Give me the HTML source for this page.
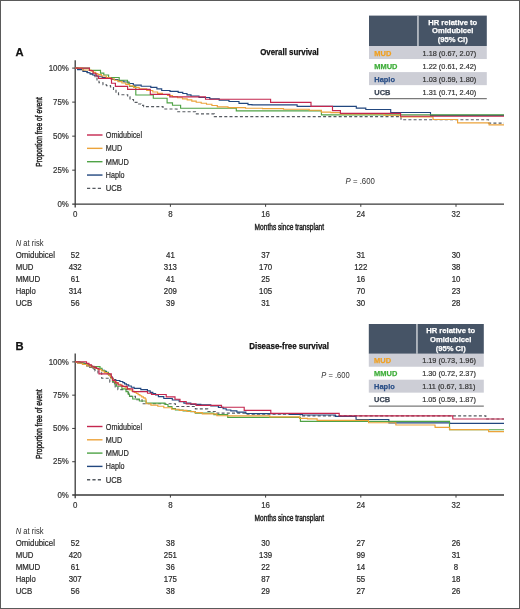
<!DOCTYPE html>
<html><head><meta charset="utf-8"><style>
html,body{margin:0;padding:0;background:#fff;}
body{width:520px;height:609px;overflow:hidden;}
svg{display:block;font-family:"Liberation Sans", sans-serif;will-change:transform;}
</style></head><body>
<svg width="520" height="609" viewBox="0 0 520 609">
<rect x="0" y="0" width="520" height="609" fill="#fff"/>
<path d="M75.2 60.3 V207.39999999999998 M72.2 204.2 H504" stroke="#3a3a3a" stroke-width="1.3" fill="none"/>
<path d="M72.2 68.10 H75.2 M72.2 102.12 H75.2 M72.2 136.15 H75.2 M72.2 170.17 H75.2 M170.40 204.2 V206.79999999999998 M265.60 204.2 V206.79999999999998 M360.80 204.2 V206.79999999999998 M456.00 204.2 V206.79999999999998" stroke="#3a3a3a" stroke-width="1" fill="none"/>
<text x="68.9" y="70.80" font-size="8.6" text-anchor="end" fill="#333" textLength="20.21" lengthAdjust="spacingAndGlyphs" stroke="#333" stroke-width="0.2">100%</text>
<text x="68.9" y="104.82" font-size="8.6" text-anchor="end" fill="#333" textLength="15.81" lengthAdjust="spacingAndGlyphs" stroke="#333" stroke-width="0.2">75%</text>
<text x="68.9" y="138.85" font-size="8.6" text-anchor="end" fill="#333" textLength="15.81" lengthAdjust="spacingAndGlyphs" stroke="#333" stroke-width="0.2">50%</text>
<text x="68.9" y="172.87" font-size="8.6" text-anchor="end" fill="#333" textLength="15.81" lengthAdjust="spacingAndGlyphs" stroke="#333" stroke-width="0.2">25%</text>
<text x="68.9" y="206.90" font-size="8.6" text-anchor="end" fill="#333" textLength="11.42" lengthAdjust="spacingAndGlyphs" stroke="#333" stroke-width="0.2">0%</text>
<text x="75.20" y="217.0" font-size="8.6" text-anchor="middle" fill="#333" textLength="4.39" lengthAdjust="spacingAndGlyphs" stroke="#333" stroke-width="0.2">0</text>
<text x="170.40" y="217.0" font-size="8.6" text-anchor="middle" fill="#333" textLength="4.39" lengthAdjust="spacingAndGlyphs" stroke="#333" stroke-width="0.2">8</text>
<text x="265.60" y="217.0" font-size="8.6" text-anchor="middle" fill="#333" textLength="8.79" lengthAdjust="spacingAndGlyphs" stroke="#333" stroke-width="0.2">16</text>
<text x="360.80" y="217.0" font-size="8.6" text-anchor="middle" fill="#333" textLength="8.79" lengthAdjust="spacingAndGlyphs" stroke="#333" stroke-width="0.2">24</text>
<text x="456.00" y="217.0" font-size="8.6" text-anchor="middle" fill="#333" textLength="8.79" lengthAdjust="spacingAndGlyphs" stroke="#333" stroke-width="0.2">32</text>
<text x="0" y="0" font-size="9.4" fill="#222" stroke="#222" stroke-width="0.45" text-anchor="middle" textLength="69.5" lengthAdjust="spacingAndGlyphs" transform="translate(42.2 132) rotate(-90)">Proportion free of event</text>
<text x="254.6" y="230.4" font-size="9.4" text-anchor="start" fill="#222" textLength="69.5" lengthAdjust="spacingAndGlyphs" stroke="#222" stroke-width="0.45">Months since transplant</text>
<text x="15.6" y="56" font-size="11.2" text-anchor="start" fill="#111" font-weight="bold" stroke="#111" stroke-width="0.25">A</text>
<text x="260.2" y="55.4" font-size="9.0" text-anchor="start" fill="#111" font-weight="bold" textLength="58.6" lengthAdjust="spacingAndGlyphs" stroke="#111" stroke-width="0.25">Overall survival</text>
<text x="345.6" y="184" font-size="8.4" fill="#333" textLength="29.3" lengthAdjust="spacingAndGlyphs"><tspan font-style="italic">P</tspan> = .600</text>
<path d="M87 135.00 H102.5" stroke="#c4264e" stroke-width="1.4"/>
<text x="105.8" y="138.00" font-size="8.6" text-anchor="start" fill="#2a2a2a" textLength="36.2" lengthAdjust="spacingAndGlyphs" stroke="#2a2a2a" stroke-width="0.2">Omidubicel</text>
<path d="M87 148.35 H102.5" stroke="#eca33a" stroke-width="1.4"/>
<text x="105.8" y="151.35" font-size="8.6" text-anchor="start" fill="#2a2a2a" textLength="16.4" lengthAdjust="spacingAndGlyphs" stroke="#2a2a2a" stroke-width="0.2">MUD</text>
<path d="M87 161.70 H102.5" stroke="#4fa346" stroke-width="1.4"/>
<text x="105.8" y="164.70" font-size="8.6" text-anchor="start" fill="#2a2a2a" textLength="23.0" lengthAdjust="spacingAndGlyphs" stroke="#2a2a2a" stroke-width="0.2">MMUD</text>
<path d="M87 175.05 H102.5" stroke="#22477f" stroke-width="1.4"/>
<text x="105.8" y="178.05" font-size="8.6" text-anchor="start" fill="#2a2a2a" textLength="18.7" lengthAdjust="spacingAndGlyphs" stroke="#2a2a2a" stroke-width="0.2">Haplo</text>
<path d="M87 188.40 H102.5" stroke="#555a60" stroke-width="1.4" stroke-dasharray="3.2 2.2"/>
<text x="105.8" y="191.40" font-size="8.6" text-anchor="start" fill="#2a2a2a" textLength="16.2" lengthAdjust="spacingAndGlyphs" stroke="#2a2a2a" stroke-width="0.2">UCB</text>
<path d="M75.2,68.1 78.0,68.1 78.0,69.5 82.0,69.5 82.0,71.0 86.0,71.0 86.0,72.5 90.0,72.5 90.0,74.0 93.0,74.0 93.0,75.5 95.0,75.5 95.0,78.0 97.0,78.0 97.0,80.5 99.0,80.5 99.0,82.7 103.0,82.7 103.0,84.7 106.5,84.7 106.5,85.6 110.5,85.6 110.5,87.0 113.5,87.0 113.5,89.5 116.0,89.5 116.0,92.8 118.5,92.8 118.5,94.7 127.7,94.7 127.7,96.8 130.0,96.8 130.0,99.5 133.5,99.5 133.5,102.3 138.0,102.3 138.0,104.0 141.0,104.0 141.0,105.3 143.6,105.3 143.6,106.6 163.0,106.6 163.0,109.0 177.0,109.0 177.0,111.7 195.5,111.7 195.5,113.9 214.3,113.9 214.3,116.6 401.0,116.6 401.0,119.7 488.5,119.7 488.5,123.1 504.0,123.1" stroke="#555a60" stroke-width="1.15" fill="none" stroke-linejoin="miter" stroke-dasharray="3 2.2"/>
<path d="M75.2,68.1 77.6,68.1 77.6,69.6 83.0,69.6 83.0,71.5 87.3,71.5 87.3,72.7 90.0,72.7 90.0,73.8 92.7,73.8 92.7,75.0 96.8,75.0 96.8,76.2 102.2,76.2 102.2,77.5 107.5,77.5 107.5,78.5 112.5,78.5 112.5,79.5 118.0,79.5 118.0,80.8 123.9,80.8 123.9,82.0 129.0,82.0 129.0,83.5 133.3,83.5 133.3,85.1 141.2,85.1 141.2,86.2 150.8,86.2 150.8,87.3 156.9,87.3 156.9,88.9 161.7,88.9 161.7,90.5 170.0,90.5 170.0,91.3 178.2,91.3 178.2,92.4 182.8,92.4 182.8,93.5 187.0,93.5 187.0,94.8 191.0,94.8 191.0,96.0 199.0,96.0 199.0,97.5 209.8,97.5 209.8,98.8 219.2,98.8 219.2,100.2 229.0,100.2 229.0,101.5 239.0,101.5 239.0,103.3 248.0,103.3 248.0,104.6 252.0,104.6 252.0,104.8 297.1,104.8 297.1,106.0 297.2,106.0 297.2,106.3 356.3,106.3 356.3,108.1 365.8,108.1 365.8,109.5 390.7,109.5 390.7,111.0 390.7,111.0 390.7,112.5 430.5,112.5 430.5,113.9 430.5,113.9 430.5,115.3 504.0,115.3" stroke="#22477f" stroke-width="1.15" fill="none" stroke-linejoin="miter"/>
<path d="M75.2,68.1 89.5,68.1 89.5,70.3 100.5,70.3 100.5,73.1 103.8,73.1 103.8,75.0 108.6,75.0 108.6,77.5 119.2,77.5 119.2,80.2 127.5,80.2 127.5,83.0 129.5,83.0 129.5,86.5 135.8,86.5 135.8,95.0 153.3,95.0 153.3,98.2 167.1,98.2 167.1,102.8 172.5,102.8 172.5,105.2 180.6,105.2 180.6,108.2 236.3,108.2 236.3,110.9 321.4,110.9 321.4,114.8 504.0,114.8" stroke="#4fa346" stroke-width="1.15" fill="none" stroke-linejoin="miter"/>
<path d="M75.2,68.1 82.6,68.1 82.6,70.0 91.1,70.0 91.1,71.2 93.4,71.2 93.4,72.3 95.6,72.3 95.6,73.5 97.9,73.5 97.9,74.6 101.4,74.6 101.4,76.0 106.3,76.0 106.3,77.5 110.6,77.5 110.6,78.9 114.3,78.9 114.3,80.2 118.1,80.2 118.1,81.6 121.9,81.6 121.9,83.0 125.8,83.0 125.8,84.3 129.6,84.3 129.6,85.8 133.5,85.8 133.5,87.4 139.2,87.4 139.2,88.9 146.7,88.9 146.7,90.5 152.8,90.5 152.8,92.0 157.6,92.0 157.6,93.4 162.5,93.4 162.5,94.5 167.5,94.5 167.5,95.5 172.5,95.5 172.5,96.6 177.5,96.6 177.5,97.7 182.5,97.7 182.5,98.8 187.2,98.8 187.2,99.9 191.8,99.9 191.8,101.1 196.2,101.1 196.2,102.2 201.2,102.2 201.2,103.2 206.5,103.2 206.5,104.2 211.9,104.2 211.9,105.5 217.3,105.5 217.3,106.9 228.0,106.9 228.0,107.6 245.5,107.6 245.5,108.2 262.5,108.2 262.5,108.6 283.5,108.6 283.5,109.2 309.2,109.2 309.2,110.2 321.4,110.2 321.4,112.1 330.9,112.1 330.9,112.6 340.4,112.6 340.4,113.8 340.5,113.8 340.5,113.9 384.1,113.9 384.1,115.2 400.4,115.2 400.4,116.9 433.0,116.9 433.0,118.2 433.1,118.2 433.1,119.5 457.5,119.5 457.5,120.6 457.6,120.6 457.6,121.8 457.6,121.8 457.6,122.9 489.0,122.9 489.0,123.9 489.1,123.9 489.1,124.9 504.0,124.9" stroke="#eca33a" stroke-width="1.15" fill="none" stroke-linejoin="miter"/>
<path d="M75.2,68.1 89.4,68.1 89.4,70.5 93.0,70.5 93.0,73.2 96.0,73.2 96.0,76.0 98.5,76.0 98.5,78.4 111.5,78.4 111.5,83.2 115.4,83.2 115.4,86.3 127.6,86.3 127.6,89.4 150.3,89.4 150.3,94.4 169.8,94.4 169.8,96.9 205.5,96.9 205.5,99.2 270.6,99.2 270.6,102.4 311.0,102.4 311.0,106.4 332.5,106.4 332.5,110.6 340.4,110.6 340.4,113.4 400.6,113.4 400.6,116.2 504.0,116.2" stroke="#c4264e" stroke-width="1.15" fill="none" stroke-linejoin="miter"/>
<rect x="369" y="15.6" width="117.80000000000001" height="30.4" fill="#465466"/>
<rect x="417.2" y="15.6" width="1.5" height="30.4" fill="#c9cdd3"/>
<text x="452.75" y="24.50" font-size="7.9" text-anchor="middle" fill="#fff" font-weight="bold" textLength="48.99" lengthAdjust="spacingAndGlyphs" stroke="#fff" stroke-width="0.25">HR relative to</text>
<text x="452.75" y="33.20" font-size="7.9" text-anchor="middle" fill="#fff" font-weight="bold" textLength="41.38" lengthAdjust="spacingAndGlyphs" stroke="#fff" stroke-width="0.25">Omidubicel</text>
<text x="452.75" y="41.90" font-size="7.9" text-anchor="middle" fill="#fff" font-weight="bold" textLength="29.98" lengthAdjust="spacingAndGlyphs" stroke="#fff" stroke-width="0.25">(95% CI)</text>
<rect x="369" y="46.00" width="117.80000000000001" height="13.05" fill="#cdced6"/>
<text x="374.3" y="55.50" font-size="8.0" text-anchor="start" fill="#f0a020" font-weight="bold" textLength="16.97" lengthAdjust="spacingAndGlyphs" stroke="#f0a020" stroke-width="0.25">MUD</text>
<text x="422.6" y="55.50" font-size="8.0" text-anchor="start" fill="#333" textLength="53.72" lengthAdjust="spacingAndGlyphs" stroke="#333" stroke-width="0.2">1.18 (0.67, 2.07)</text>
<text x="374.3" y="68.55" font-size="8.0" text-anchor="start" fill="#3fae3a" font-weight="bold" textLength="23.17" lengthAdjust="spacingAndGlyphs" stroke="#3fae3a" stroke-width="0.25">MMUD</text>
<text x="422.6" y="68.55" font-size="8.0" text-anchor="start" fill="#333" textLength="53.72" lengthAdjust="spacingAndGlyphs" stroke="#333" stroke-width="0.2">1.22 (0.61, 2.42)</text>
<rect x="369" y="72.10" width="117.80000000000001" height="13.05" fill="#cdced6"/>
<text x="374.3" y="81.60" font-size="8.0" text-anchor="start" fill="#2a4f87" font-weight="bold" textLength="20.69" lengthAdjust="spacingAndGlyphs" stroke="#2a4f87" stroke-width="0.25">Haplo</text>
<text x="422.6" y="81.60" font-size="8.0" text-anchor="start" fill="#333" textLength="53.72" lengthAdjust="spacingAndGlyphs" stroke="#333" stroke-width="0.2">1.03 (0.59, 1.80)</text>
<text x="374.3" y="94.65" font-size="8.0" text-anchor="start" fill="#3c4656" font-weight="bold" textLength="16.14" lengthAdjust="spacingAndGlyphs" stroke="#3c4656" stroke-width="0.25">UCB</text>
<text x="422.6" y="94.65" font-size="8.0" text-anchor="start" fill="#333" textLength="53.72" lengthAdjust="spacingAndGlyphs" stroke="#333" stroke-width="0.2">1.31 (0.71, 2.40)</text>
<rect x="369" y="98.20" width="117.80000000000001" height="1.0" fill="#5a5a5a"/>
<text x="15.7" y="245.6" font-size="8.6" fill="#2a2a2a" textLength="27.8" lengthAdjust="spacingAndGlyphs"><tspan font-style="italic">N</tspan> at risk</text>
<text x="15.7" y="257.60" font-size="8.6" text-anchor="start" fill="#2a2a2a" textLength="39.2" lengthAdjust="spacingAndGlyphs" stroke="#2a2a2a" stroke-width="0.2">Omidubicel</text>
<text x="75.20" y="257.60" font-size="8.6" text-anchor="middle" fill="#2a2a2a" textLength="8.73" lengthAdjust="spacingAndGlyphs" stroke="#2a2a2a" stroke-width="0.2">52</text>
<text x="170.40" y="257.60" font-size="8.6" text-anchor="middle" fill="#2a2a2a" textLength="8.73" lengthAdjust="spacingAndGlyphs" stroke="#2a2a2a" stroke-width="0.2">41</text>
<text x="265.60" y="257.60" font-size="8.6" text-anchor="middle" fill="#2a2a2a" textLength="8.73" lengthAdjust="spacingAndGlyphs" stroke="#2a2a2a" stroke-width="0.2">37</text>
<text x="360.80" y="257.60" font-size="8.6" text-anchor="middle" fill="#2a2a2a" textLength="8.73" lengthAdjust="spacingAndGlyphs" stroke="#2a2a2a" stroke-width="0.2">31</text>
<text x="456.00" y="257.60" font-size="8.6" text-anchor="middle" fill="#2a2a2a" textLength="8.73" lengthAdjust="spacingAndGlyphs" stroke="#2a2a2a" stroke-width="0.2">30</text>
<text x="15.7" y="269.60" font-size="8.6" text-anchor="start" fill="#2a2a2a" textLength="17.8" lengthAdjust="spacingAndGlyphs" stroke="#2a2a2a" stroke-width="0.2">MUD</text>
<text x="75.20" y="269.60" font-size="8.6" text-anchor="middle" fill="#2a2a2a" textLength="13.1" lengthAdjust="spacingAndGlyphs" stroke="#2a2a2a" stroke-width="0.2">432</text>
<text x="170.40" y="269.60" font-size="8.6" text-anchor="middle" fill="#2a2a2a" textLength="13.1" lengthAdjust="spacingAndGlyphs" stroke="#2a2a2a" stroke-width="0.2">313</text>
<text x="265.60" y="269.60" font-size="8.6" text-anchor="middle" fill="#2a2a2a" textLength="13.1" lengthAdjust="spacingAndGlyphs" stroke="#2a2a2a" stroke-width="0.2">170</text>
<text x="360.80" y="269.60" font-size="8.6" text-anchor="middle" fill="#2a2a2a" textLength="13.1" lengthAdjust="spacingAndGlyphs" stroke="#2a2a2a" stroke-width="0.2">122</text>
<text x="456.00" y="269.60" font-size="8.6" text-anchor="middle" fill="#2a2a2a" textLength="8.73" lengthAdjust="spacingAndGlyphs" stroke="#2a2a2a" stroke-width="0.2">38</text>
<text x="15.7" y="281.60" font-size="8.6" text-anchor="start" fill="#2a2a2a" textLength="24.6" lengthAdjust="spacingAndGlyphs" stroke="#2a2a2a" stroke-width="0.2">MMUD</text>
<text x="75.20" y="281.60" font-size="8.6" text-anchor="middle" fill="#2a2a2a" textLength="8.73" lengthAdjust="spacingAndGlyphs" stroke="#2a2a2a" stroke-width="0.2">61</text>
<text x="170.40" y="281.60" font-size="8.6" text-anchor="middle" fill="#2a2a2a" textLength="8.73" lengthAdjust="spacingAndGlyphs" stroke="#2a2a2a" stroke-width="0.2">41</text>
<text x="265.60" y="281.60" font-size="8.6" text-anchor="middle" fill="#2a2a2a" textLength="8.73" lengthAdjust="spacingAndGlyphs" stroke="#2a2a2a" stroke-width="0.2">25</text>
<text x="360.80" y="281.60" font-size="8.6" text-anchor="middle" fill="#2a2a2a" textLength="8.73" lengthAdjust="spacingAndGlyphs" stroke="#2a2a2a" stroke-width="0.2">16</text>
<text x="456.00" y="281.60" font-size="8.6" text-anchor="middle" fill="#2a2a2a" textLength="8.73" lengthAdjust="spacingAndGlyphs" stroke="#2a2a2a" stroke-width="0.2">10</text>
<text x="15.7" y="293.60" font-size="8.6" text-anchor="start" fill="#2a2a2a" textLength="20.0" lengthAdjust="spacingAndGlyphs" stroke="#2a2a2a" stroke-width="0.2">Haplo</text>
<text x="75.20" y="293.60" font-size="8.6" text-anchor="middle" fill="#2a2a2a" textLength="13.1" lengthAdjust="spacingAndGlyphs" stroke="#2a2a2a" stroke-width="0.2">314</text>
<text x="170.40" y="293.60" font-size="8.6" text-anchor="middle" fill="#2a2a2a" textLength="13.1" lengthAdjust="spacingAndGlyphs" stroke="#2a2a2a" stroke-width="0.2">209</text>
<text x="265.60" y="293.60" font-size="8.6" text-anchor="middle" fill="#2a2a2a" textLength="13.1" lengthAdjust="spacingAndGlyphs" stroke="#2a2a2a" stroke-width="0.2">105</text>
<text x="360.80" y="293.60" font-size="8.6" text-anchor="middle" fill="#2a2a2a" textLength="8.73" lengthAdjust="spacingAndGlyphs" stroke="#2a2a2a" stroke-width="0.2">70</text>
<text x="456.00" y="293.60" font-size="8.6" text-anchor="middle" fill="#2a2a2a" textLength="8.73" lengthAdjust="spacingAndGlyphs" stroke="#2a2a2a" stroke-width="0.2">23</text>
<text x="15.7" y="305.60" font-size="8.6" text-anchor="start" fill="#2a2a2a" textLength="16.6" lengthAdjust="spacingAndGlyphs" stroke="#2a2a2a" stroke-width="0.2">UCB</text>
<text x="75.20" y="305.60" font-size="8.6" text-anchor="middle" fill="#2a2a2a" textLength="8.73" lengthAdjust="spacingAndGlyphs" stroke="#2a2a2a" stroke-width="0.2">56</text>
<text x="170.40" y="305.60" font-size="8.6" text-anchor="middle" fill="#2a2a2a" textLength="8.73" lengthAdjust="spacingAndGlyphs" stroke="#2a2a2a" stroke-width="0.2">39</text>
<text x="265.60" y="305.60" font-size="8.6" text-anchor="middle" fill="#2a2a2a" textLength="8.73" lengthAdjust="spacingAndGlyphs" stroke="#2a2a2a" stroke-width="0.2">31</text>
<text x="360.80" y="305.60" font-size="8.6" text-anchor="middle" fill="#2a2a2a" textLength="8.73" lengthAdjust="spacingAndGlyphs" stroke="#2a2a2a" stroke-width="0.2">30</text>
<text x="456.00" y="305.60" font-size="8.6" text-anchor="middle" fill="#2a2a2a" textLength="8.73" lengthAdjust="spacingAndGlyphs" stroke="#2a2a2a" stroke-width="0.2">28</text>
<path d="M75.2 353.4 V498.2 M72.2 495.0 H504" stroke="#3a3a3a" stroke-width="1.3" fill="none"/>
<path d="M72.2 361.90 H75.2 M72.2 395.17 H75.2 M72.2 428.45 H75.2 M72.2 461.73 H75.2 M170.40 495.0 V497.6 M265.60 495.0 V497.6 M360.80 495.0 V497.6 M456.00 495.0 V497.6" stroke="#3a3a3a" stroke-width="1" fill="none"/>
<text x="68.9" y="364.60" font-size="8.6" text-anchor="end" fill="#333" textLength="20.21" lengthAdjust="spacingAndGlyphs" stroke="#333" stroke-width="0.2">100%</text>
<text x="68.9" y="397.87" font-size="8.6" text-anchor="end" fill="#333" textLength="15.81" lengthAdjust="spacingAndGlyphs" stroke="#333" stroke-width="0.2">75%</text>
<text x="68.9" y="431.15" font-size="8.6" text-anchor="end" fill="#333" textLength="15.81" lengthAdjust="spacingAndGlyphs" stroke="#333" stroke-width="0.2">50%</text>
<text x="68.9" y="464.43" font-size="8.6" text-anchor="end" fill="#333" textLength="15.81" lengthAdjust="spacingAndGlyphs" stroke="#333" stroke-width="0.2">25%</text>
<text x="68.9" y="497.70" font-size="8.6" text-anchor="end" fill="#333" textLength="11.42" lengthAdjust="spacingAndGlyphs" stroke="#333" stroke-width="0.2">0%</text>
<text x="75.20" y="507.9" font-size="8.6" text-anchor="middle" fill="#333" textLength="4.39" lengthAdjust="spacingAndGlyphs" stroke="#333" stroke-width="0.2">0</text>
<text x="170.40" y="507.9" font-size="8.6" text-anchor="middle" fill="#333" textLength="4.39" lengthAdjust="spacingAndGlyphs" stroke="#333" stroke-width="0.2">8</text>
<text x="265.60" y="507.9" font-size="8.6" text-anchor="middle" fill="#333" textLength="8.79" lengthAdjust="spacingAndGlyphs" stroke="#333" stroke-width="0.2">16</text>
<text x="360.80" y="507.9" font-size="8.6" text-anchor="middle" fill="#333" textLength="8.79" lengthAdjust="spacingAndGlyphs" stroke="#333" stroke-width="0.2">24</text>
<text x="456.00" y="507.9" font-size="8.6" text-anchor="middle" fill="#333" textLength="8.79" lengthAdjust="spacingAndGlyphs" stroke="#333" stroke-width="0.2">32</text>
<text x="0" y="0" font-size="9.4" fill="#222" stroke="#222" stroke-width="0.45" text-anchor="middle" textLength="69.5" lengthAdjust="spacingAndGlyphs" transform="translate(42.2 424.2) rotate(-90)">Proportion free of event</text>
<text x="254.6" y="521.3" font-size="9.4" text-anchor="start" fill="#222" textLength="69.5" lengthAdjust="spacingAndGlyphs" stroke="#222" stroke-width="0.45">Months since transplant</text>
<text x="15.6" y="349.6" font-size="11.2" text-anchor="start" fill="#111" font-weight="bold" stroke="#111" stroke-width="0.25">B</text>
<text x="249.2" y="348.8" font-size="9.0" text-anchor="start" fill="#111" font-weight="bold" textLength="79.8" lengthAdjust="spacingAndGlyphs" stroke="#111" stroke-width="0.25">Disease-free survival</text>
<text x="321.3" y="378.2" font-size="8.4" fill="#333" textLength="28.3" lengthAdjust="spacingAndGlyphs"><tspan font-style="italic">P</tspan> = .600</text>
<path d="M87 426.50 H102.5" stroke="#c4264e" stroke-width="1.4"/>
<text x="105.8" y="429.50" font-size="8.6" text-anchor="start" fill="#2a2a2a" textLength="36.2" lengthAdjust="spacingAndGlyphs" stroke="#2a2a2a" stroke-width="0.2">Omidubicel</text>
<path d="M87 439.80 H102.5" stroke="#eca33a" stroke-width="1.4"/>
<text x="105.8" y="442.80" font-size="8.6" text-anchor="start" fill="#2a2a2a" textLength="16.4" lengthAdjust="spacingAndGlyphs" stroke="#2a2a2a" stroke-width="0.2">MUD</text>
<path d="M87 453.10 H102.5" stroke="#4fa346" stroke-width="1.4"/>
<text x="105.8" y="456.10" font-size="8.6" text-anchor="start" fill="#2a2a2a" textLength="23.0" lengthAdjust="spacingAndGlyphs" stroke="#2a2a2a" stroke-width="0.2">MMUD</text>
<path d="M87 466.40 H102.5" stroke="#22477f" stroke-width="1.4"/>
<text x="105.8" y="469.40" font-size="8.6" text-anchor="start" fill="#2a2a2a" textLength="18.7" lengthAdjust="spacingAndGlyphs" stroke="#2a2a2a" stroke-width="0.2">Haplo</text>
<path d="M87 479.70 H102.5" stroke="#555a60" stroke-width="1.4" stroke-dasharray="3.2 2.2"/>
<text x="105.8" y="482.70" font-size="8.6" text-anchor="start" fill="#2a2a2a" textLength="16.2" lengthAdjust="spacingAndGlyphs" stroke="#2a2a2a" stroke-width="0.2">UCB</text>
<path d="M75.2,361.9 78.0,361.9 78.0,362.6 82.0,362.6 82.0,363.5 86.0,363.5 86.0,365.0 90.0,365.0 90.0,366.8 92.5,366.8 92.5,369.5 95.0,369.5 95.0,371.0 98.0,371.0 98.0,372.8 101.7,372.8 101.7,378.2 109.8,378.2 109.8,382.2 115.2,382.2 115.2,386.9 117.9,386.9 117.9,389.6 128.6,389.6 128.6,396.3 135.4,396.3 135.4,399.7 142.1,399.7 142.1,403.7 175.4,403.7 175.4,406.5 195.4,406.5 195.4,408.9 207.7,408.9 207.7,411.5 217.0,411.5 217.0,413.1 245.0,413.1 245.0,414.1 300.2,414.1 300.2,415.8 485.8,415.8 485.8,419.0 504.0,419.0" stroke="#555a60" stroke-width="1.15" fill="none" stroke-linejoin="miter" stroke-dasharray="3 2.2"/>
<path d="M75.2,361.9 77.6,361.9 77.6,363.0 82.5,363.0 82.5,364.5 86.7,364.5 86.7,365.8 89.8,365.8 89.8,367.5 93.7,367.5 93.7,368.5 98.2,368.5 98.2,369.4 101.8,369.4 101.8,370.4 104.5,370.4 104.5,371.4 106.5,371.4 106.5,372.5 107.8,372.5 107.8,373.7 109.1,373.7 109.1,374.8 110.3,374.8 110.3,376.0 111.3,376.0 111.3,377.1 112.3,377.1 112.3,378.3 113.3,378.3 113.3,379.5 115.8,379.5 115.8,380.5 119.9,380.5 119.9,381.5 122.8,381.5 122.8,382.6 124.6,382.6 124.6,383.8 126.4,383.8 126.4,384.9 128.7,384.9 128.7,386.0 131.3,386.0 131.3,387.2 134.1,387.2 134.1,388.3 140.8,388.3 140.8,389.6 147.4,389.6 147.4,390.9 150.2,390.9 150.2,392.3 152.8,392.3 152.8,393.6 155.6,393.6 155.6,395.0 158.4,395.0 158.4,396.6 163.8,396.6 163.8,398.5 172.3,398.5 172.3,400.0 179.2,400.0 179.2,401.6 183.9,401.6 183.9,403.1 190.8,403.1 190.8,404.3 200.8,404.3 200.8,404.9 210.8,404.9 210.8,405.8 218.4,405.8 218.4,407.4 223.1,407.4 223.1,408.7 226.2,408.7 226.2,410.0 230.8,410.0 230.8,410.8 236.9,410.8 236.9,412.1 245.9,412.1 245.9,413.5 251.9,413.5 251.9,413.6 289.6,413.6 289.6,414.4 302.4,414.4 302.4,415.0 335.5,415.0 335.5,416.3 356.0,416.3 356.0,417.8 356.1,417.8 356.1,419.3 356.1,419.3 356.1,419.5 388.8,419.5 388.8,420.6 388.9,420.6 388.9,421.7 388.9,421.7 388.9,422.8 388.9,422.8 388.9,422.9 449.6,422.9 449.6,423.3 504.0,423.3" stroke="#22477f" stroke-width="1.15" fill="none" stroke-linejoin="miter"/>
<path d="M75.2,361.9 80.0,361.9 80.0,362.8 84.0,362.8 84.0,364.0 88.0,364.0 88.0,365.5 92.0,365.5 92.0,366.6 100.0,366.6 100.0,368.2 102.0,368.2 102.0,370.5 105.0,370.5 105.0,372.3 108.5,372.3 108.5,374.8 110.5,374.8 110.5,378.0 112.5,378.0 112.5,381.3 114.5,381.3 114.5,383.8 116.5,383.8 116.5,386.2 121.9,386.2 121.9,388.9 126.0,388.9 126.0,391.6 128.0,391.6 128.0,394.0 129.5,394.0 129.5,396.2 132.7,396.2 132.7,399.0 139.4,399.0 139.4,401.0 146.1,401.0 146.1,403.1 165.0,403.1 165.0,404.5 168.0,404.5 168.0,406.5 172.0,406.5 172.0,408.5 175.4,408.5 175.4,410.0 183.1,410.0 183.1,410.8 190.8,410.8 190.8,411.7 195.4,411.7 195.4,413.1 213.8,413.1 213.8,414.6 227.7,414.6 227.7,417.4 300.4,417.4 300.4,421.3 449.5,421.3 449.5,429.7 504.0,429.7" stroke="#4fa346" stroke-width="1.15" fill="none" stroke-linejoin="miter"/>
<path d="M75.2,361.9 77.7,361.9 77.7,363.2 82.5,363.2 82.5,364.5 86.8,364.5 86.8,365.8 90.2,365.8 90.2,367.0 94.0,367.0 94.0,368.2 98.0,368.2 98.0,369.5 101.4,369.5 101.4,371.0 104.2,371.0 104.2,372.5 107.1,372.5 107.1,374.0 109.1,374.0 109.1,375.2 110.2,375.2 110.2,376.5 111.3,376.5 111.3,377.8 112.4,377.8 112.4,379.0 113.5,379.0 113.5,380.2 114.6,380.2 114.6,381.5 116.3,381.5 116.3,382.9 118.5,382.9 118.5,384.2 120.8,384.2 120.8,385.6 123.0,385.6 123.0,386.7 125.2,386.7 125.2,387.8 127.5,387.8 127.5,388.9 129.7,388.9 129.7,390.0 132.0,390.0 132.0,391.2 134.3,391.2 134.3,392.3 136.3,392.3 136.3,393.4 138.1,393.4 138.1,394.6 139.9,394.6 139.9,395.7 141.7,395.7 141.7,396.8 143.4,396.8 143.4,397.9 145.2,397.9 145.2,399.0 146.1,399.0 146.1,400.2 146.1,400.2 146.1,401.4 146.2,401.4 146.2,402.5 146.2,402.5 146.2,403.7 150.9,403.7 150.9,405.1 157.8,405.1 157.8,406.2 163.8,406.2 163.8,407.7 171.6,407.7 171.6,409.2 179.2,409.2 179.2,410.4 186.9,410.4 186.9,411.5 194.7,411.5 194.7,412.6 202.3,412.6 202.3,413.8 216.9,413.8 216.9,415.7 227.7,415.7 227.7,415.9 269.8,415.9 269.8,416.9 299.6,416.9 299.6,418.3 307.4,418.3 307.4,418.8 317.1,418.8 317.1,420.4 368.5,420.4 368.5,421.6 368.6,421.6 368.6,422.7 395.8,422.7 395.8,423.9 395.9,423.9 395.9,425.0 435.0,425.0 435.0,426.1 435.1,426.1 435.1,427.3 449.6,427.3 449.6,428.4 449.7,428.4 449.7,429.6 488.5,429.6 488.5,430.6 488.6,430.6 488.6,431.6 504.0,431.6" stroke="#eca33a" stroke-width="1.15" fill="none" stroke-linejoin="miter"/>
<path d="M75.2,361.9 86.5,361.9 86.5,363.3 89.0,363.3 89.0,364.8 91.5,364.8 91.5,366.2 94.0,366.2 94.0,367.4 96.5,367.4 96.5,368.5 99.0,368.5 99.0,373.8 111.3,373.8 111.3,377.2 112.5,377.2 112.5,380.3 115.2,380.3 115.2,382.8 118.0,382.8 118.0,385.0 122.0,385.0 122.0,386.4 127.3,386.4 127.3,388.8 132.7,388.8 132.7,391.6 147.5,391.6 147.5,393.2 151.5,393.2 151.5,394.5 166.2,394.5 166.2,396.9 175.0,396.9 175.0,399.2 180.0,399.2 180.0,401.5 186.2,401.5 186.2,403.8 196.0,403.8 196.0,405.4 221.5,405.4 221.5,407.2 244.2,407.2 244.2,410.4 270.8,410.4 270.8,413.3 339.2,413.3 339.2,415.9 452.8,415.9 452.8,419.0 504.0,419.0" stroke="#c4264e" stroke-width="1.15" fill="none" stroke-linejoin="miter"/>
<rect x="368.8" y="324" width="115.0" height="29.80000000000001" fill="#465466"/>
<rect x="416.2" y="324" width="1.5" height="29.80000000000001" fill="#c9cdd3"/>
<text x="450.75" y="333.00" font-size="7.9" text-anchor="middle" fill="#fff" font-weight="bold" textLength="48.99" lengthAdjust="spacingAndGlyphs" stroke="#fff" stroke-width="0.25">HR relative to</text>
<text x="450.75" y="341.75" font-size="7.9" text-anchor="middle" fill="#fff" font-weight="bold" textLength="41.38" lengthAdjust="spacingAndGlyphs" stroke="#fff" stroke-width="0.25">Omidubicel</text>
<text x="450.75" y="350.50" font-size="7.9" text-anchor="middle" fill="#fff" font-weight="bold" textLength="29.98" lengthAdjust="spacingAndGlyphs" stroke="#fff" stroke-width="0.25">(95% CI)</text>
<rect x="368.8" y="353.80" width="115.0" height="12.95" fill="#cdced6"/>
<text x="374.1" y="363.30" font-size="8.0" text-anchor="start" fill="#f0a020" font-weight="bold" textLength="16.97" lengthAdjust="spacingAndGlyphs" stroke="#f0a020" stroke-width="0.25">MUD</text>
<text x="422.2" y="363.30" font-size="8.0" text-anchor="start" fill="#333" textLength="53.72" lengthAdjust="spacingAndGlyphs" stroke="#333" stroke-width="0.2">1.19 (0.73, 1.96)</text>
<text x="374.1" y="376.25" font-size="8.0" text-anchor="start" fill="#3fae3a" font-weight="bold" textLength="23.17" lengthAdjust="spacingAndGlyphs" stroke="#3fae3a" stroke-width="0.25">MMUD</text>
<text x="422.2" y="376.25" font-size="8.0" text-anchor="start" fill="#333" textLength="53.72" lengthAdjust="spacingAndGlyphs" stroke="#333" stroke-width="0.2">1.30 (0.72, 2.37)</text>
<rect x="368.8" y="379.70" width="115.0" height="12.95" fill="#cdced6"/>
<text x="374.1" y="389.20" font-size="8.0" text-anchor="start" fill="#2a4f87" font-weight="bold" textLength="20.69" lengthAdjust="spacingAndGlyphs" stroke="#2a4f87" stroke-width="0.25">Haplo</text>
<text x="422.2" y="389.20" font-size="8.0" text-anchor="start" fill="#333" textLength="53.17" lengthAdjust="spacingAndGlyphs" stroke="#333" stroke-width="0.2">1.11 (0.67, 1.81)</text>
<text x="374.1" y="402.15" font-size="8.0" text-anchor="start" fill="#3c4656" font-weight="bold" textLength="16.14" lengthAdjust="spacingAndGlyphs" stroke="#3c4656" stroke-width="0.25">UCB</text>
<text x="422.2" y="402.15" font-size="8.0" text-anchor="start" fill="#333" textLength="53.72" lengthAdjust="spacingAndGlyphs" stroke="#333" stroke-width="0.2">1.05 (0.59, 1.87)</text>
<rect x="368.8" y="405.60" width="115.0" height="1.0" fill="#5a5a5a"/>
<text x="15.7" y="533.8" font-size="8.6" fill="#2a2a2a" textLength="27.8" lengthAdjust="spacingAndGlyphs"><tspan font-style="italic">N</tspan> at risk</text>
<text x="15.7" y="545.74" font-size="8.6" text-anchor="start" fill="#2a2a2a" textLength="39.2" lengthAdjust="spacingAndGlyphs" stroke="#2a2a2a" stroke-width="0.2">Omidubicel</text>
<text x="75.20" y="545.74" font-size="8.6" text-anchor="middle" fill="#2a2a2a" textLength="8.73" lengthAdjust="spacingAndGlyphs" stroke="#2a2a2a" stroke-width="0.2">52</text>
<text x="170.40" y="545.74" font-size="8.6" text-anchor="middle" fill="#2a2a2a" textLength="8.73" lengthAdjust="spacingAndGlyphs" stroke="#2a2a2a" stroke-width="0.2">38</text>
<text x="265.60" y="545.74" font-size="8.6" text-anchor="middle" fill="#2a2a2a" textLength="8.73" lengthAdjust="spacingAndGlyphs" stroke="#2a2a2a" stroke-width="0.2">30</text>
<text x="360.80" y="545.74" font-size="8.6" text-anchor="middle" fill="#2a2a2a" textLength="8.73" lengthAdjust="spacingAndGlyphs" stroke="#2a2a2a" stroke-width="0.2">27</text>
<text x="456.00" y="545.74" font-size="8.6" text-anchor="middle" fill="#2a2a2a" textLength="8.73" lengthAdjust="spacingAndGlyphs" stroke="#2a2a2a" stroke-width="0.2">26</text>
<text x="15.7" y="557.68" font-size="8.6" text-anchor="start" fill="#2a2a2a" textLength="17.8" lengthAdjust="spacingAndGlyphs" stroke="#2a2a2a" stroke-width="0.2">MUD</text>
<text x="75.20" y="557.68" font-size="8.6" text-anchor="middle" fill="#2a2a2a" textLength="13.1" lengthAdjust="spacingAndGlyphs" stroke="#2a2a2a" stroke-width="0.2">420</text>
<text x="170.40" y="557.68" font-size="8.6" text-anchor="middle" fill="#2a2a2a" textLength="13.1" lengthAdjust="spacingAndGlyphs" stroke="#2a2a2a" stroke-width="0.2">251</text>
<text x="265.60" y="557.68" font-size="8.6" text-anchor="middle" fill="#2a2a2a" textLength="13.1" lengthAdjust="spacingAndGlyphs" stroke="#2a2a2a" stroke-width="0.2">139</text>
<text x="360.80" y="557.68" font-size="8.6" text-anchor="middle" fill="#2a2a2a" textLength="8.73" lengthAdjust="spacingAndGlyphs" stroke="#2a2a2a" stroke-width="0.2">99</text>
<text x="456.00" y="557.68" font-size="8.6" text-anchor="middle" fill="#2a2a2a" textLength="8.73" lengthAdjust="spacingAndGlyphs" stroke="#2a2a2a" stroke-width="0.2">31</text>
<text x="15.7" y="569.62" font-size="8.6" text-anchor="start" fill="#2a2a2a" textLength="24.6" lengthAdjust="spacingAndGlyphs" stroke="#2a2a2a" stroke-width="0.2">MMUD</text>
<text x="75.20" y="569.62" font-size="8.6" text-anchor="middle" fill="#2a2a2a" textLength="8.73" lengthAdjust="spacingAndGlyphs" stroke="#2a2a2a" stroke-width="0.2">61</text>
<text x="170.40" y="569.62" font-size="8.6" text-anchor="middle" fill="#2a2a2a" textLength="8.73" lengthAdjust="spacingAndGlyphs" stroke="#2a2a2a" stroke-width="0.2">36</text>
<text x="265.60" y="569.62" font-size="8.6" text-anchor="middle" fill="#2a2a2a" textLength="8.73" lengthAdjust="spacingAndGlyphs" stroke="#2a2a2a" stroke-width="0.2">22</text>
<text x="360.80" y="569.62" font-size="8.6" text-anchor="middle" fill="#2a2a2a" textLength="8.73" lengthAdjust="spacingAndGlyphs" stroke="#2a2a2a" stroke-width="0.2">14</text>
<text x="456.00" y="569.62" font-size="8.6" text-anchor="middle" fill="#2a2a2a" textLength="4.37" lengthAdjust="spacingAndGlyphs" stroke="#2a2a2a" stroke-width="0.2">8</text>
<text x="15.7" y="581.56" font-size="8.6" text-anchor="start" fill="#2a2a2a" textLength="20.0" lengthAdjust="spacingAndGlyphs" stroke="#2a2a2a" stroke-width="0.2">Haplo</text>
<text x="75.20" y="581.56" font-size="8.6" text-anchor="middle" fill="#2a2a2a" textLength="13.1" lengthAdjust="spacingAndGlyphs" stroke="#2a2a2a" stroke-width="0.2">307</text>
<text x="170.40" y="581.56" font-size="8.6" text-anchor="middle" fill="#2a2a2a" textLength="13.1" lengthAdjust="spacingAndGlyphs" stroke="#2a2a2a" stroke-width="0.2">175</text>
<text x="265.60" y="581.56" font-size="8.6" text-anchor="middle" fill="#2a2a2a" textLength="8.73" lengthAdjust="spacingAndGlyphs" stroke="#2a2a2a" stroke-width="0.2">87</text>
<text x="360.80" y="581.56" font-size="8.6" text-anchor="middle" fill="#2a2a2a" textLength="8.73" lengthAdjust="spacingAndGlyphs" stroke="#2a2a2a" stroke-width="0.2">55</text>
<text x="456.00" y="581.56" font-size="8.6" text-anchor="middle" fill="#2a2a2a" textLength="8.73" lengthAdjust="spacingAndGlyphs" stroke="#2a2a2a" stroke-width="0.2">18</text>
<text x="15.7" y="593.50" font-size="8.6" text-anchor="start" fill="#2a2a2a" textLength="16.6" lengthAdjust="spacingAndGlyphs" stroke="#2a2a2a" stroke-width="0.2">UCB</text>
<text x="75.20" y="593.50" font-size="8.6" text-anchor="middle" fill="#2a2a2a" textLength="8.73" lengthAdjust="spacingAndGlyphs" stroke="#2a2a2a" stroke-width="0.2">56</text>
<text x="170.40" y="593.50" font-size="8.6" text-anchor="middle" fill="#2a2a2a" textLength="8.73" lengthAdjust="spacingAndGlyphs" stroke="#2a2a2a" stroke-width="0.2">38</text>
<text x="265.60" y="593.50" font-size="8.6" text-anchor="middle" fill="#2a2a2a" textLength="8.73" lengthAdjust="spacingAndGlyphs" stroke="#2a2a2a" stroke-width="0.2">29</text>
<text x="360.80" y="593.50" font-size="8.6" text-anchor="middle" fill="#2a2a2a" textLength="8.73" lengthAdjust="spacingAndGlyphs" stroke="#2a2a2a" stroke-width="0.2">27</text>
<text x="456.00" y="593.50" font-size="8.6" text-anchor="middle" fill="#2a2a2a" textLength="8.73" lengthAdjust="spacingAndGlyphs" stroke="#2a2a2a" stroke-width="0.2">26</text>
<rect x="0.5" y="0.5" width="519" height="608" fill="none" stroke="#5a5a5a" stroke-width="1"/>
</svg>
</body></html>
